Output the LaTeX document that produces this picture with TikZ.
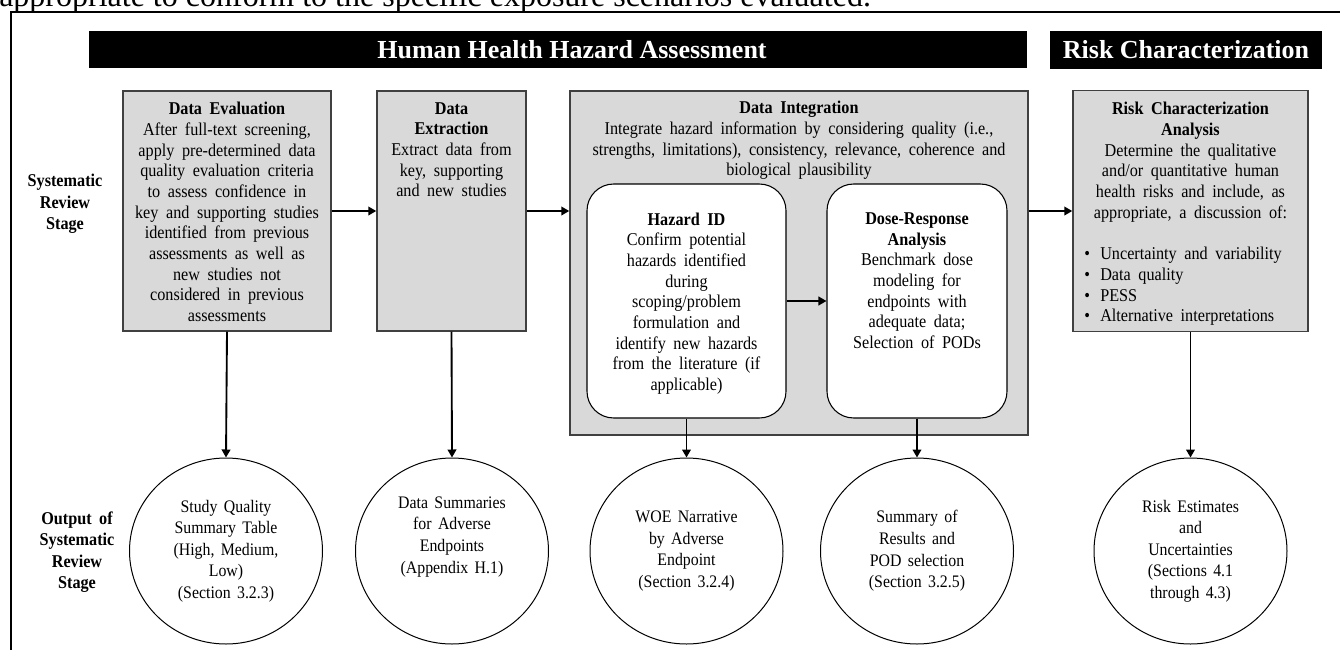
\documentclass[tikz,border=0pt]{standalone}
\usepackage{fontspec}
\setmainfont{Liberation Serif}
\newfontfamily\condfam{Liberation Serif}[FakeStretch=0.9]
\usetikzlibrary{shapes.geometric,arrows.meta}
\definecolor{boxgray}{HTML}{D9D9D9}
\definecolor{boxborder}{HTML}{404040}
\newcommand{\widesp}{\spaceskip=0.42em\relax}
\newcommand{\ellsp}{\spaceskip=0.36em\relax}
\newcommand{\bodyfont}{\condfam\fontsize{13.5}{15.5}\selectfont\widesp}
\newcommand{\ellfont}{\condfam\fontsize{13.2}{16.2}\selectfont\ellsp}
\newcommand{\sidefont}{\condfam\fontsize{13.5}{16}\selectfont\bfseries\widesp}
\tikzset{
  px/.style={x=0.75pt,y=-0.75pt},
  graybox/.style={draw=boxborder,line width=1.1pt,fill=boxgray,inner sep=0pt},
  roundbox/.style={draw=black,line width=0.8pt,fill=white,rounded corners=20pt,inner sep=0pt},
  outcircle/.style={draw=black,line width=0.75pt,ellipse,inner sep=0pt,minimum width=144.75pt,minimum height=139.5pt,align=center,font=\ellfont},
  bodytext/.style={inner sep=0pt,align=center,font=\bodyfont},
  sidelabel/.style={inner sep=0pt,align=center,font=\sidefont},
  headbar/.style={fill=black,inner sep=0pt},
  headtext/.style={text=white,inner sep=0pt,font=\fontsize{19.5}{22}\selectfont\bfseries},
  arr/.style={line width=1.4pt,-{Triangle[length=6pt,width=6.5pt]}},
}
\begin{document}
\begin{tikzpicture}[px]
\useasboundingbox (0,0) rectangle (1340,650);
\clip (0,0) rectangle (1340,650);
% cut caption line and frame
\node[anchor=base west,inner sep=0pt,font=\fontsize{24}{28}\selectfont] (caption) at (-1,6) {appropriate to conform to the specific exposure scenarios evaluated.};
\draw[line width=1.5pt] (11,700) -- (11,11.5) -- (1360,11.5);
% header bars
\node[headbar,minimum width=703.5pt,minimum height=27.75pt] (bar1) at (558,49.5) {};
\node[headtext] (bar1t) at (572,50) {Human Health Hazard Assessment};
\node[headbar,minimum width=204pt,minimum height=28.5pt] (bar2) at (1186,50) {};
\node[headtext] (bar2t) at (1186,50) {Risk Characterization};
% side labels
\node[sidelabel] (lab1) at (65,204) {Systematic\\Review\\Stage};
\node[sidelabel] (lab2) at (77,552) {Output of\\Systematic\\Review\\Stage};
% boxes
\node[graybox,minimum width=156pt,minimum height=180pt] (eval) at (227,211) {};
\node[bodytext,anchor=north] (evalt) at (227,102) {\textbf{Data Evaluation}\\After full-text screening,\\apply pre-determined data\\quality evaluation criteria\\to assess confidence in\\key and supporting studies\\identified from previous\\assessments as well as\\new studies not\\considered in previous\\assessments};
\node[graybox,minimum width=111.75pt,minimum height=180pt] (extr) at (451.5,211) {};
\node[bodytext,anchor=north] (extrt) at (451.5,102) {\textbf{Data}\\\textbf{Extraction}\\Extract data from\\key, supporting\\and new studies};
\node[graybox,minimum width=343.5pt,minimum height=258pt] (integ) at (799,263) {};
\node[bodytext,anchor=north] (integt) at (799,101) {\textbf{Data Integration}\\Integrate hazard information by considering quality (i.e.,\\strengths, limitations), consistency, relevance, coherence and\\biological plausibility};
\node[roundbox,minimum width=149.25pt,minimum height=175.5pt] (hazard) at (686.5,301) {};
\node[bodytext,anchor=north] (hazardt) at (686.5,212.5) {\textbf{Hazard ID}\\Confirm potential\\hazards identified\\during\\scoping/problem\\formulation and\\identify new hazards\\from the literature (if\\applicable)};
\node[roundbox,minimum width=135pt,minimum height=175.5pt] (dose) at (917,301) {};
\node[bodytext,anchor=north] (doset) at (917,212.5) {\textbf{Dose-Response}\\\textbf{Analysis}\\Benchmark dose\\modeling for\\endpoints with\\adequate data;\\Selection of PODs};
\node[graybox,minimum width=176.25pt,minimum height=180.75pt] (risk) at (1190.5,211) {};
\node[bodytext,anchor=north] (riskt) at (1190.5,102) {\textbf{Risk Characterization}\\\textbf{Analysis}\\Determine the qualitative\\and/or quantitative human\\health risks and include, as\\appropriate, a discussion of:};
\node[bodytext,anchor=north west,align=left] (riskb) at (1084,247) {\makebox[12pt][l]{\textbullet}Uncertainty and variability\\\makebox[12pt][l]{\textbullet}Data quality\\\makebox[12pt][l]{\textbullet}PESS\\\makebox[12pt][l]{\textbullet}Alternative interpretations};
% outputs
\node[outcircle] (o1) at (226,551) {Study Quality\\Summary Table\\(High, Medium,\\Low)\\(Section 3.2.3)};
\node[outcircle] (o2) at (452,551) {Data Summaries\\for Adverse\\Endpoints\\(Appendix H.1)\\[8pt]};
\node[outcircle] (o3) at (686.5,551) {WOE Narrative\\by Adverse\\Endpoint\\(Section 3.2.4)};
\node[outcircle] (o4) at (917,551) {Summary of\\Results and\\POD selection\\(Section 3.2.5)};
\node[outcircle] (o5) at (1190.5,551) {Risk Estimates\\and\\Uncertainties\\(Sections 4.1\\through 4.3)};
% connectors
\draw[arr] (eval.east) -- (extr.west);
\draw[arr] (extr.east) -- (integ.west |- extr.east);
\draw[arr] (integ.east |- risk.west) -- (risk.west);
\draw[arr] (hazard.east) -- (dose.west);
\draw[arr] (eval.south) -- (o1.north);
\draw[arr] (extr.south) -- (o2.north);
\draw[arr] (hazard.south) -- (o3.north);
\draw[arr] (dose.south) -- (o4.north);
\draw[arr] (risk.south) -- (o5.north);
\end{tikzpicture}
\end{document}
